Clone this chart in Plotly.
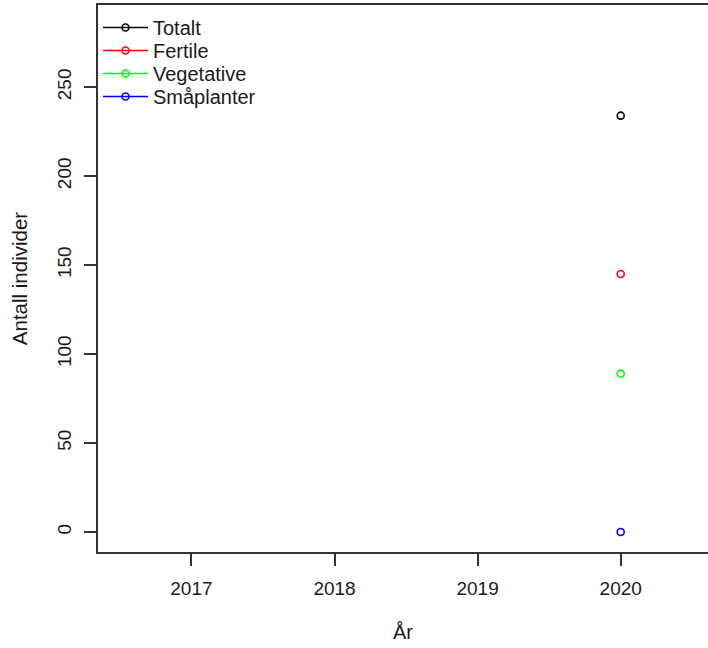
import plotly.graph_objects as go

# Antall individer per år og kategori (bare 2020 er registrert)
years = [2017, 2018, 2019, 2020]
totalt = [None, None, None, 234]
fertile = [None, None, None, 145]
vegetative = [None, None, None, 89]
smaplanter = [None, None, None, 0]

series_names = ["Totalt", "Fertile", "Vegetative", "Småplanter"]
series_values = [totalt, fertile, vegetative, smaplanter]
series_colors = ["#000000", "#FF0000", "#00FF00", "#0000FF"]

y_ticks = [0, 50, 100, 150, 200, 250]
x_ticks = [2017, 2018, 2019, 2020]

FONT = "Liberation Sans, Arial, sans-serif"
TEXT = "#1a1a1a"
AXIS = "#333333"

PLOT_TOP, PLOT_BOTTOM = 5, 552
PLOT_H = PLOT_BOTTOM - PLOT_TOP
LEGEND_FONT = 20
ROW_PITCH = 23.0          # vertical spacing between legend rows, px
FIRST_ROW_TOP = 8         # top of first legend box, px from top of figure

fig = go.Figure()
legend_ids = ["legend", "legend2", "legend3", "legend4"]
for i, (name, vals, col) in enumerate(zip(series_names, series_values, series_colors)):
    fig.add_trace(go.Scatter(
        x=years, y=vals, name=name, mode="lines+markers",
        line=dict(color=col, width=1.3),
        marker=dict(symbol="circle-open", size=7, color=col, line=dict(width=1.6, color=col)),
        connectgaps=False,
        legend=legend_ids[i],
    ))

# one single-row legend per series so rows sit at a tight, even pitch
legend_layout = {}
for i, lid in enumerate(legend_ids):
    top_px = FIRST_ROW_TOP + i * ROW_PITCH
    legend_layout[lid] = dict(
        x=0, y=1 - (top_px - PLOT_TOP) / PLOT_H, xanchor="left", yanchor="top",
        bgcolor="rgba(0,0,0,0)", borderwidth=0,
        font=dict(family=FONT, size=LEGEND_FONT, color=TEXT),
        itemwidth=45,
    )

fig.update_layout(
    width=708, height=648,
    margin=dict(l=98, r=0, t=PLOT_TOP, b=648 - PLOT_BOTTOM),
    plot_bgcolor="white", paper_bgcolor="white",
    font=dict(family=FONT, size=19, color=TEXT),
    showlegend=True,
    xaxis=dict(
        range=[2016.347, 2020.61],
        tickvals=x_ticks, ticktext=[str(v) for v in x_ticks],
        showgrid=False, zeroline=False,
        showline=True, linecolor=AXIS, linewidth=1.5, mirror=True,
        ticks="outside", ticklen=12, tickwidth=1.5, tickcolor=AXIS,
        ticklabelstandoff=6,
        title=dict(text="År", standoff=27, font=dict(size=20)),
    ),
    yaxis=dict(
        range=[-11.24, 296.2],
        tickvals=y_ticks, ticktext=[str(v) for v in y_ticks],
        tickangle=-90,
        showgrid=False, zeroline=False,
        showline=True, linecolor=AXIS, linewidth=1.5, mirror=False,
        ticks="outside", ticklen=12, tickwidth=1.5, tickcolor=AXIS,
        ticklabelstandoff=6,
        title=dict(text="Antall individer", standoff=20, font=dict(size=20.5)),
    ),
    **legend_layout,
)

fig.write_html("out.html")
